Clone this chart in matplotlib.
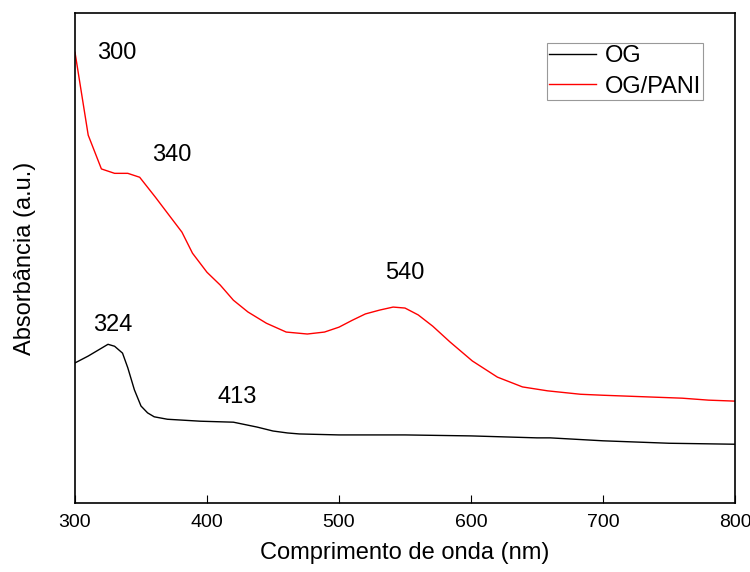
#####################################################################################
# IMPORTS
#####################################################################################

import matplotlib
matplotlib.use('Agg')
import matplotlib.pyplot as plt

plt.rcParams['font.family'] = ['Liberation Sans', 'DejaVu Sans']

#####################################################################################
# DATA
#####################################################################################

# OG/PANI spectrum (wavelength in nm, absorbance in a.u.)
pani_wl = [300, 310, 320, 330, 340, 349, 361, 370, 381, 389, 400, 410, 420, 431,
           445, 460, 476, 489, 500, 510, 520, 531, 541, 550, 560, 571, 584, 601,
           620, 639, 658, 683, 700, 720, 740, 760, 780, 800]
pani_abs = [0.920, 0.751, 0.682, 0.673, 0.673, 0.665, 0.624, 0.592, 0.553, 0.510,
            0.471, 0.445, 0.414, 0.390, 0.367, 0.349, 0.345, 0.349, 0.359, 0.373,
            0.386, 0.394, 0.400, 0.398, 0.384, 0.361, 0.329, 0.290, 0.257, 0.237,
            0.229, 0.222, 0.220, 0.218, 0.216, 0.214, 0.210, 0.208]

# OG spectrum
og_wl = [300, 310, 320, 325, 330, 336, 340, 345, 350, 355, 360, 370, 395, 420,
         438, 450, 461, 470, 500, 550, 600, 650, 660, 700, 750, 800]
og_abs = [0.286, 0.300, 0.316, 0.324, 0.320, 0.306, 0.276, 0.231, 0.198, 0.184,
          0.176, 0.171, 0.167, 0.165, 0.155, 0.147, 0.143, 0.141, 0.139, 0.139,
          0.137, 0.133, 0.133, 0.127, 0.122, 0.120]

# peak labels (text, x, y)
peak_text = ['300', '340', '324', '413', '540']
peak_x = [331.8, 373.5, 328.8, 422.7, 550.0]
peak_y = [0.918, 0.710, 0.363, 0.216, 0.469]

x_ticks = [300, 400, 500, 600, 700, 800]

#####################################################################################
# PLOT
#####################################################################################

fig = plt.figure(figsize=(7.5, 5.72), dpi=100)
ax = fig.add_axes([0.1, 0.1206, 0.88, 0.8564])

ax.plot(og_wl, og_abs, color='black', linewidth=1, label='OG')
ax.plot(pani_wl, pani_abs, color='red', linewidth=1, label='OG/PANI')

for t, x, y in zip(peak_text, peak_x, peak_y):
	ax.text(x, y, t, fontsize=17, ha='center', va='center')

ax.set_xlim(300, 800)
ax.set_ylim(0, 1)
ax.set_xticks(x_ticks)
ax.set_yticks([])
ax.tick_params(axis='x', direction='in', length=6, labelsize=14, pad=8)
ax.set_xlabel('Comprimento de onda (nm)', fontsize=17, labelpad=8)
ax.set_ylabel('Absorbância (a.u.)', fontsize=17, labelpad=28)
for s in ax.spines.values():
	s.set_linewidth(1.2)

leg = ax.legend(loc='upper right', bbox_to_anchor=(0.9515, 0.9388), borderaxespad=0,
                fontsize=17, frameon=True, fancybox=False, edgecolor='gray',
                handlelength=2.0, borderpad=0.1, labelspacing=0.35, handletextpad=0.35)
leg.get_frame().set_linewidth(0.8)

plt.savefig('out.png', dpi=100)
